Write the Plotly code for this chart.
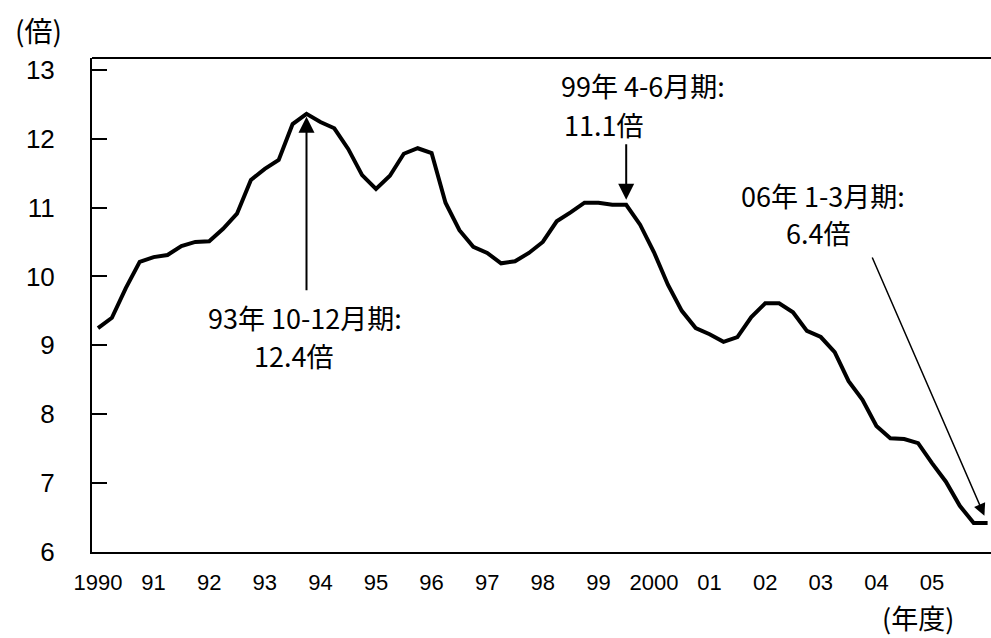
import plotly.graph_objects as go

# ---- data (quarterly, Jan-Mar 1990 .. Jan-Mar 2006) ----
start_year = 1990
ratio = [9.25, 9.40, 9.83, 10.21, 10.28, 10.31, 10.44, 10.50, 10.51, 10.69,
         10.91, 11.40, 11.56, 11.69, 12.21, 12.36, 12.24, 12.15, 11.85, 11.47,
         11.27, 11.46, 11.78, 11.86, 11.79, 11.07, 10.67, 10.43, 10.34, 10.19,
         10.22, 10.34, 10.50, 10.80, 10.93, 11.07, 11.07, 11.04, 11.04, 10.75,
         10.35, 9.88, 9.50, 9.25, 9.16, 9.05, 9.12, 9.41, 9.61, 9.61,
         9.48, 9.21, 9.12, 8.90, 8.48, 8.21, 7.83, 7.65, 7.64, 7.58,
         7.29, 7.02, 6.67, 6.42, 6.42]
quarter_pos = [start_year + i / 4 for i in range(len(ratio))]

tick_years = list(range(1990, 2006))
tick_labels = ["1990", "91", "92", "93", "94", "95", "96", "97", "98", "99",
               "2000", "01", "02", "03", "04", "05"]
y_ticks = [6, 7, 8, 9, 10, 11, 12, 13]

peak_idx = 15      # 93年10-12月期
mid_idx = 38       # 99年4-6月期 (arrow)
last_idx = len(ratio) - 1

# ---- layout geometry ----
W, H = 991, 638
L, R, T, B = 92, 991, 58, 552


def px_x(px):
    return (px - L) / (R - L)


def px_y(py):
    return (B - py) / (B - T)


LAT = "Liberation Sans, Arial, sans-serif"
JP = "Noto Sans CJK JP, sans-serif"

fig = go.Figure()
fig.add_trace(go.Scatter(
    x=quarter_pos, y=ratio, mode="lines",
    line=dict(color="black", width=4),
    hoverinfo="skip", showlegend=False,
))

annotations = []
# text labels
for txt, cx, cy in [
    ("93年 10-12月期:", 305, 317),
    ("12.4倍", 293, 355),
    ("99年 4-6月期:", 643, 86),
    ("11.1倍", 603, 124),
    ("06年 1-3月期:", 823, 195),
    ("6.4倍", 818, 233),
]:
    annotations.append(dict(
        text=txt, x=px_x(cx), y=px_y(cy), xref="paper", yref="paper",
        showarrow=False, xanchor="center", yanchor="middle",
        font=dict(family=JP, size=27, color="black")))

# arrows
arrow_style = dict(showarrow=True, arrowhead=2, arrowsize=1.6, arrowwidth=2,
                   arrowcolor="black", text="", xref="x", yref="y",
                   axref="pixel", ayref="pixel", font=dict(size=1))
annotations.append(dict(x=quarter_pos[peak_idx], y=ratio[peak_idx],
                        ax=0, ay=178, standoff=3, **arrow_style))
annotations.append(dict(x=quarter_pos[mid_idx], y=ratio[mid_idx],
                        ax=0, ay=-62, standoff=5, **arrow_style))
annotations.append(dict(x=quarter_pos[last_idx], y=ratio[last_idx],
                        ax=-116, ay=-267, standoff=8,
                        **{**arrow_style, "arrowwidth": 1.5}))

# axis titles
annotations.append(dict(text="(倍)", x=px_x(38), y=px_y(30), xref="paper",
                        yref="paper", showarrow=False, xanchor="center",
                        yanchor="middle", font=dict(family=JP, size=28, color="black")))
annotations.append(dict(text="(年度)", x=px_x(918), y=px_y(617), xref="paper",
                        yref="paper", showarrow=False, xanchor="center",
                        yanchor="middle", font=dict(family=JP, size=27, color="black")))

x_per_px = 1 / 55.6
fig.update_layout(
    width=W, height=H,
    margin=dict(l=L, r=W - R, t=T, b=H - B, pad=0),
    paper_bgcolor="white", plot_bgcolor="white",
    annotations=annotations,
    shapes=[dict(type="line", xref="paper", yref="paper", x0=0, x1=1, y0=1, y1=1,
                 line=dict(color="black", width=2))],
    showlegend=False,
)
fig.update_xaxes(
    range=[start_year - 6 * x_per_px, start_year + (R - 98) * x_per_px],
    tickmode="array", tickvals=tick_years, ticktext=tick_labels,
    ticks="", showgrid=False, zeroline=False,
    showline=True, linecolor="black", linewidth=2, mirror=False,
    tickfont=dict(family=LAT, size=22, color="black"),
    ticklabelstandoff=10,
)
fig.update_yaxes(
    range=[6, 6 + (B - T) / 68.9],
    tickmode="array", tickvals=y_ticks,
    ticks="inside", ticklen=15, tickwidth=2, tickcolor="black",
    showgrid=False, zeroline=False,
    showline=True, linecolor="black", linewidth=2, mirror=False,
    tickfont=dict(family=LAT, size=26, color="black"),
    ticklabelstandoff=30,
)

fig.write_html("out.html", config={"displayModeBar": False},
               post_script="document.body.style.margin='0';")
